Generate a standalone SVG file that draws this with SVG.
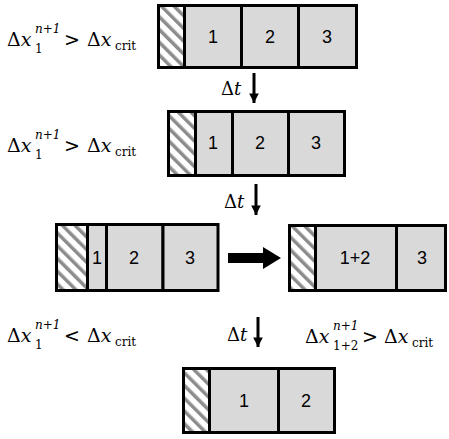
<svg xmlns="http://www.w3.org/2000/svg" width="449" height="439" viewBox="0 0 449 439">
<defs>
<pattern id="hatch" patternUnits="userSpaceOnUse" width="9" height="9" patternTransform="rotate(-45)">
<rect width="9" height="9" fill="#ffffff"/>
<rect x="0" y="0" width="3.5" height="9" fill="#8c8c8c"/>
</pattern>
<marker id="ah" viewBox="0 0 10 10" refX="10" refY="5" markerWidth="3.2" markerHeight="3.2" orient="auto" markerUnits="strokeWidth">
<path d="M0,0 L10,5 L0,10 Z" fill="#000"/>
</marker>
</defs>
<style>
.cell{fill:#d9d9d9;stroke:#000;stroke-width:3}
.hatch{fill:url(#hatch);stroke:#000;stroke-width:3}
.num{font-size:18px;fill:#000;text-anchor:middle;dominant-baseline:central}
.m{font-size:19px;fill:#000}
.s{font-size:12px;fill:#000}
.i{font-style:italic}
.dt{font-size:18px;fill:#000}
.arr{stroke:#000;stroke-width:3;fill:none;marker-end:url(#ah)}
</style>
<rect width="449" height="439" fill="#ffffff"/>

<g id="row1" font-family="Liberation Sans, Arial, sans-serif">
<rect class="hatch" x="158.5" y="5.5" width="26" height="62"/>
<rect class="cell" x="184.5" y="5.5" width="57" height="62"/>
<rect class="cell" x="241.5" y="5.5" width="57" height="62"/>
<rect class="cell" x="298.5" y="5.5" width="58" height="62"/>
<text class="num" x="213" y="37">1</text>
<text class="num" x="270" y="37">2</text>
<text class="num" x="327" y="37">3</text>
</g>

<g id="row2" font-family="Liberation Sans, Arial, sans-serif">
<rect class="hatch" x="168.5" y="111.5" width="27" height="64"/>
<rect class="cell" x="195.5" y="111.5" width="37" height="64"/>
<rect class="cell" x="232.5" y="111.5" width="56" height="64"/>
<rect class="cell" x="288.5" y="111.5" width="56" height="64"/>
<text class="num" x="213" y="143">1</text>
<text class="num" x="260" y="143">2</text>
<text class="num" x="316" y="143">3</text>
</g>

<g id="row3-left" font-family="Liberation Sans, Arial, sans-serif">
<rect class="hatch" x="56.5" y="224.5" width="31" height="66"/>
<rect class="cell" x="87.5" y="224.5" width="19" height="66"/>
<rect class="cell" x="106.5" y="224.5" width="56.5" height="66"/>
<rect class="cell" x="163" y="224.5" width="55" height="66"/>
<text class="num" x="97" y="258">1</text>
<text class="num" x="134" y="258">2</text>
<text class="num" x="190" y="258">3</text>
</g>

<g id="row3-right" font-family="Liberation Sans, Arial, sans-serif">
<rect class="hatch" x="289.5" y="225.5" width="26" height="65"/>
<rect class="cell" x="315.5" y="225.5" width="81" height="65"/>
<rect class="cell" x="396.5" y="225.5" width="49" height="65"/>
<text class="num" x="355" y="258">1+2</text>
<text class="num" x="422" y="258">3</text>
</g>

<g id="row4" font-family="Liberation Sans, Arial, sans-serif">
<rect class="hatch" x="183.5" y="368.5" width="26" height="64"/>
<rect class="cell" x="209.5" y="368.5" width="69" height="64"/>
<rect class="cell" x="278.5" y="368.5" width="56" height="64"/>
<text class="num" x="244" y="401">1</text>
<text class="num" x="306" y="401">2</text>
</g>

<g id="connectors">
<line class="arr" x1="254" y1="73" x2="254" y2="103"/>
<line class="arr" x1="256" y1="184" x2="256" y2="215"/>
<line class="arr" x1="258" y1="317" x2="258" y2="347"/>
<polygon points="228,253 263,253 263,247 281,258 263,269 263,263 228,263" fill="#000"/>
</g>

<g id="labels" font-family="DejaVu Serif, Liberation Serif, serif">
<text class="dt" x="221" y="95">Δ<tspan class="i">t</tspan></text>
<text class="dt" x="224" y="208">Δ<tspan class="i">t</tspan></text>
<text class="dt" x="227" y="341">Δ<tspan class="i">t</tspan></text>

<text class="m" x="7" y="46">Δ<tspan class="i">x</tspan></text>
<text class="s i" x="35" y="33">n+1</text>
<text class="s" x="35" y="53">1</text>
<text class="m" x="64" y="46">&gt;</text>
<text class="m" x="87" y="46">Δ<tspan class="i">x</tspan></text>
<text class="s" x="115" y="50">crit</text>

<text class="m" x="7" y="152">Δ<tspan class="i">x</tspan></text>
<text class="s i" x="35" y="139">n+1</text>
<text class="s" x="35" y="159">1</text>
<text class="m" x="64" y="152">&gt;</text>
<text class="m" x="87" y="152">Δ<tspan class="i">x</tspan></text>
<text class="s" x="115" y="156">crit</text>

<text class="m" x="7" y="342">Δ<tspan class="i">x</tspan></text>
<text class="s i" x="35" y="329">n+1</text>
<text class="s" x="35" y="349">1</text>
<text class="m" x="64" y="342">&lt;</text>
<text class="m" x="87" y="342">Δ<tspan class="i">x</tspan></text>
<text class="s" x="115" y="346">crit</text>

<text class="m" x="305" y="343">Δ<tspan class="i">x</tspan></text>
<text class="s i" x="333" y="330">n+1</text>
<text class="s" x="333" y="350">1+2</text>
<text class="m" x="362" y="343">&gt;</text>
<text class="m" x="384" y="343">Δ<tspan class="i">x</tspan></text>
<text class="s" x="412" y="347">crit</text>
</g>
</svg>
